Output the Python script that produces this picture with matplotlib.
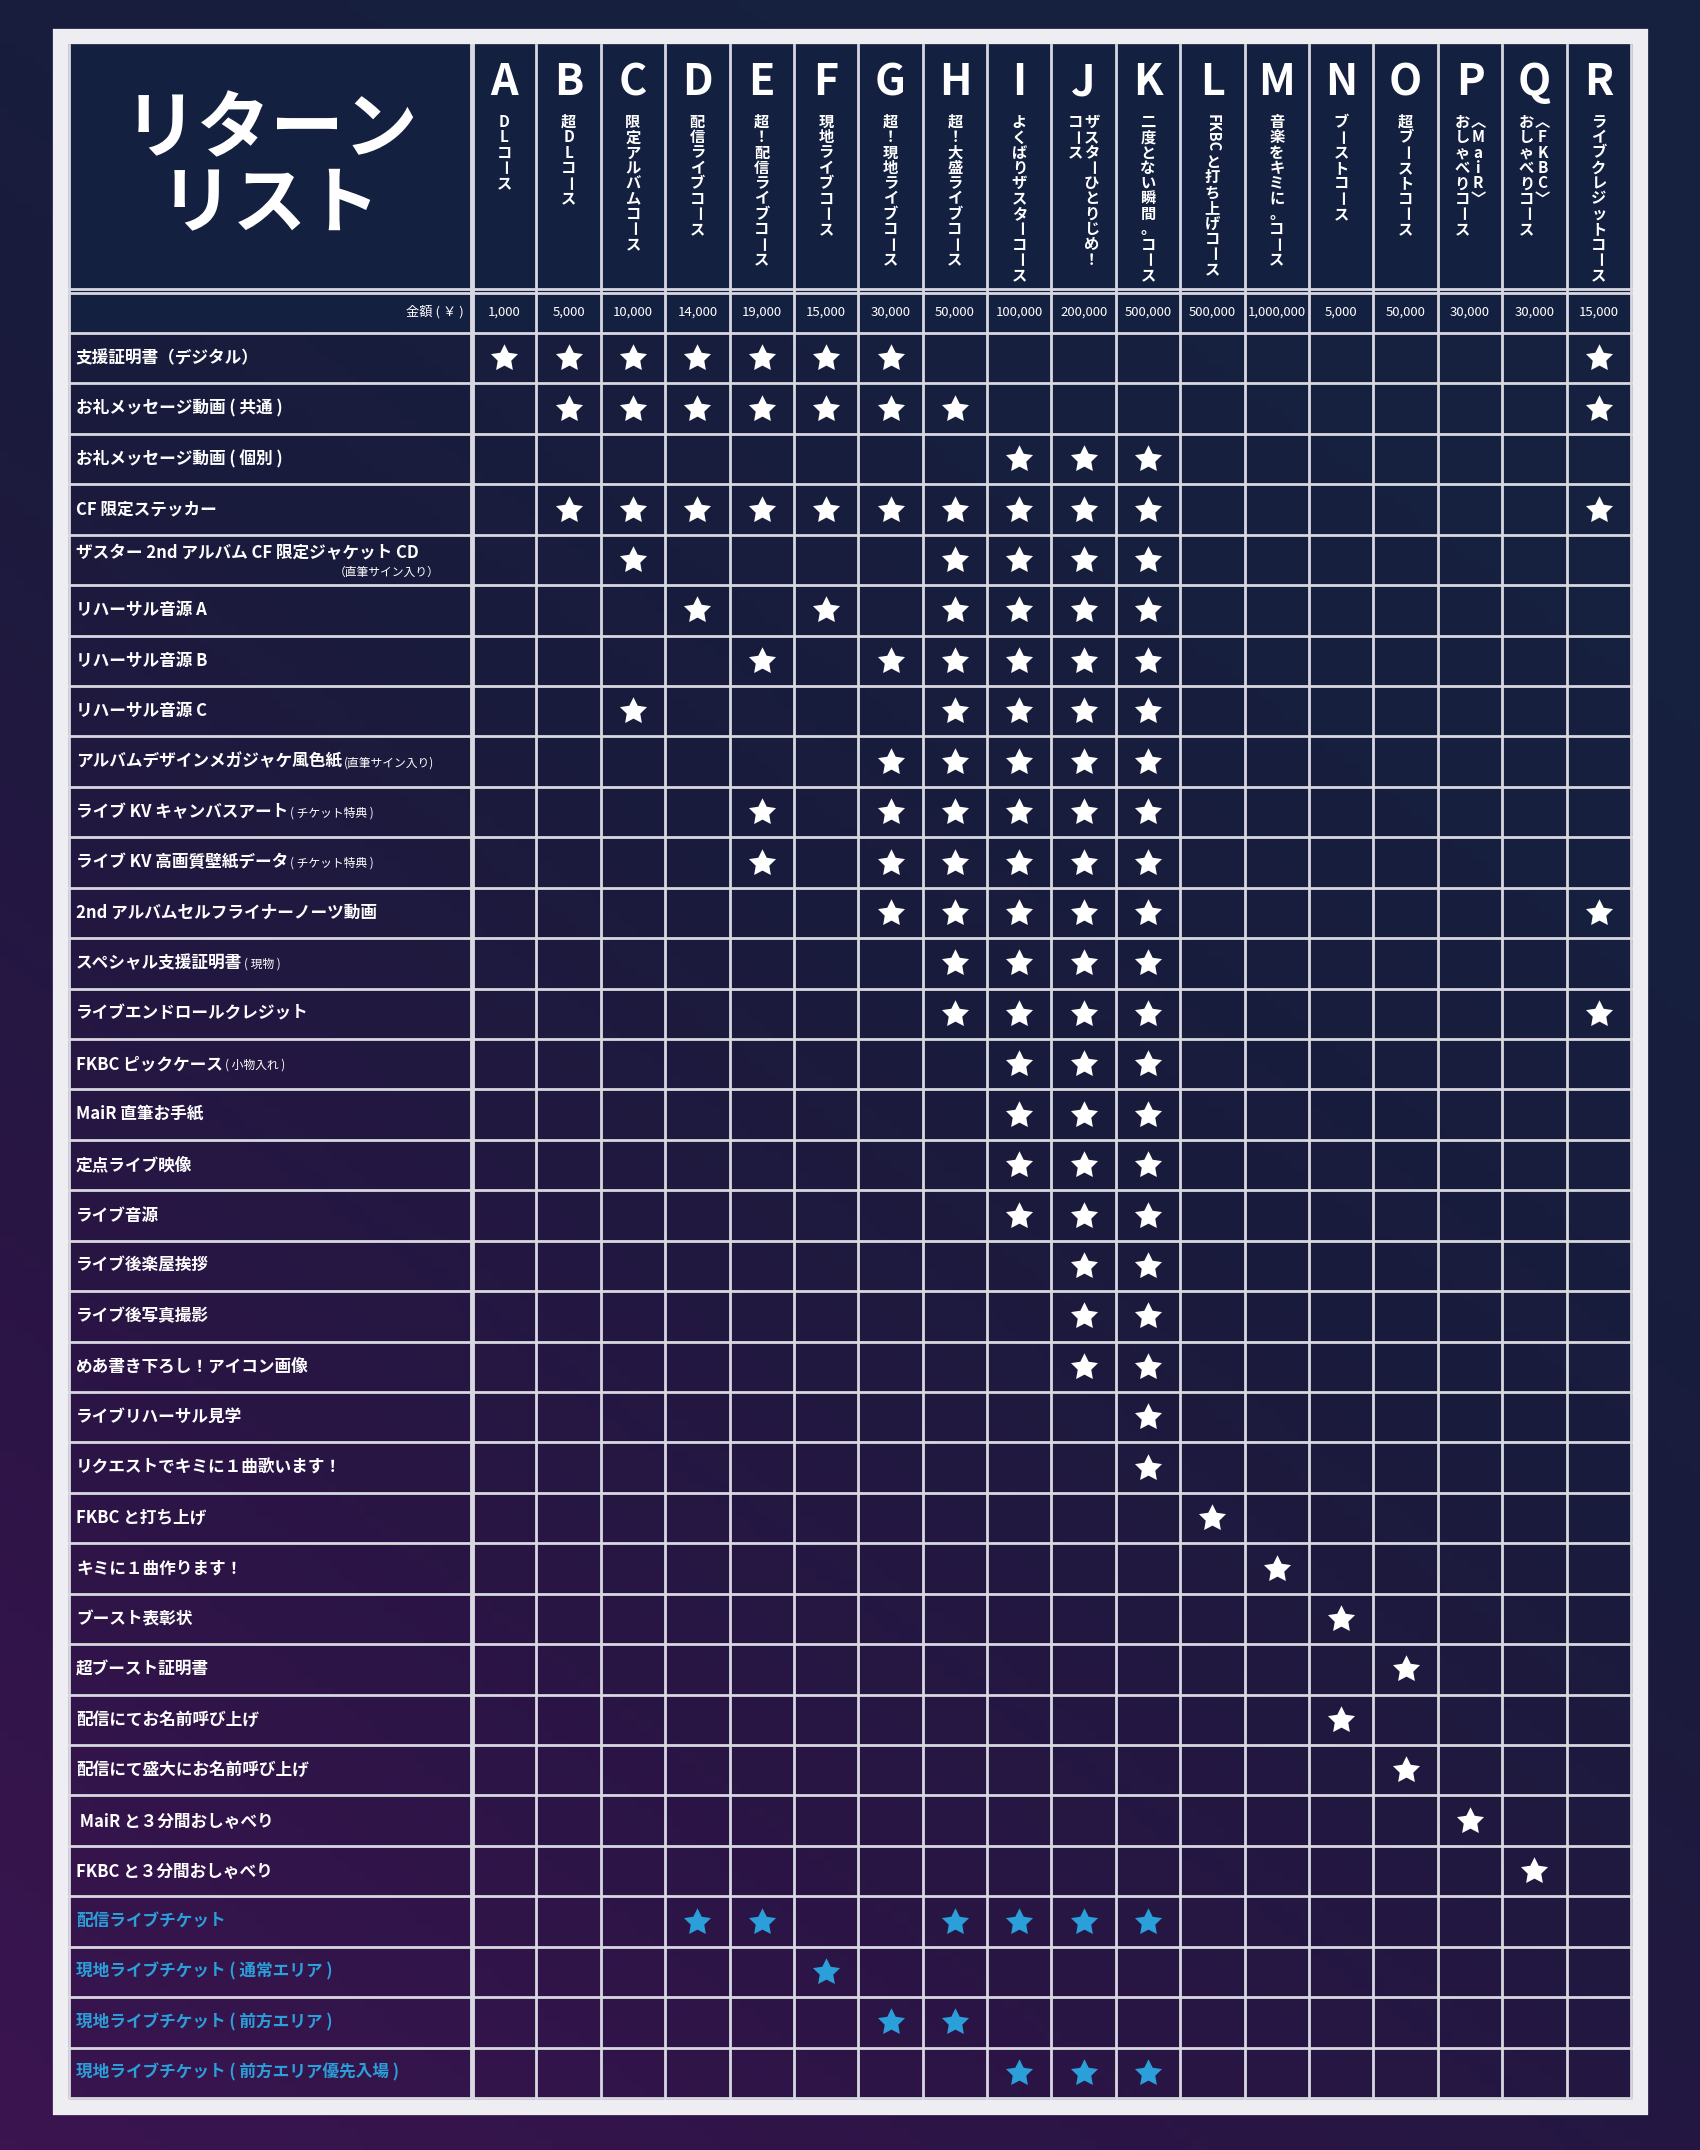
import matplotlib
matplotlib.use("Agg")
import matplotlib.pyplot as plt
import numpy as np
from matplotlib.colors import LinearSegmentedColormap

plt.rcParams['font.family'] = ['Noto Sans CJK JP', 'DejaVu Sans']

# ---------------- data ----------------
col_letters = list("ABCDEFGHIJKLMNOPQR")
col_names = [
    ["DLコース"], ["超DLコース"], ["限定アルバムコース"], ["配信ライブコース"],
    ["超！配信ライブコース"], ["現地ライブコース"], ["超！現地ライブコース"],
    ["超！大盛ライブコース"], ["よくばりザスターコース"], ["ザスターひとりじめ！", "コース"],
    ["二度とない瞬間。コース"], ["[FKBC]と打ち上げコース"], ["音楽をキミに。コース"],
    ["ブーストコース"], ["超ブーストコース"], ["︿MaiR﹀", "おしゃべりコース"],
    ["︿FKBC﹀", "おしゃべりコース"], ["ライブクレジットコース"],
]
prices = ["1,000", "5,000", "10,000", "14,000", "19,000", "15,000", "30,000", "50,000",
          "100,000", "200,000", "500,000", "500,000", "1,000,000", "5,000", "50,000",
          "30,000", "30,000", "15,000"]
row_labels = [
    ("支援証明書（デジタル）", ""), ("お礼メッセージ動画 ( 共通 )", ""),
    ("お礼メッセージ動画 ( 個別 )", ""), ("CF 限定ステッカー", ""),
    ("ザスター 2nd アルバム CF 限定ジャケット CD", "（直筆サイン入り）"),
    ("リハーサル音源 A", ""), ("リハーサル音源 B", ""), ("リハーサル音源 C", ""),
    ("アルバムデザインメガジャケ風色紙", "(直筆サイン入り)"),
    ("ライブ KV キャンバスアート", "( チケット特典 )"),
    ("ライブ KV 高画質壁紙データ", "( チケット特典 )"),
    ("2nd アルバムセルフライナーノーツ動画", ""), ("スペシャル支援証明書", "( 現物 )"),
    ("ライブエンドロールクレジット", ""), ("FKBC ピックケース", "( 小物入れ )"),
    ("MaiR 直筆お手紙", ""), ("定点ライブ映像", ""), ("ライブ音源", ""),
    ("ライブ後楽屋挨拶", ""), ("ライブ後写真撮影", ""), ("めあ書き下ろし！アイコン画像", ""),
    ("ライブリハーサル見学", ""), ("リクエストでキミに１曲歌います！", ""),
    ("FKBC と打ち上げ", ""), ("キミに１曲作ります！", ""), ("ブースト表彰状", ""),
    ("超ブースト証明書", ""), ("配信にてお名前呼び上げ", ""),
    ("配信にて盛大にお名前呼び上げ", ""), (" MaiR と３分間おしゃべり", ""),
    ("FKBC と３分間おしゃべり", ""), ("配信ライブチケット", ""),
    ("現地ライブチケット ( 通常エリア )", ""), ("現地ライブチケット ( 前方エリア )", ""),
    ("現地ライブチケット ( 前方エリア優先入場 )", ""),
]
row_stars = [
    "ABCDEFGR", "BCDEFGHR", "IJK", "BCDEFGHIJKR", "CHIJK", "DFHIJK", "EGHIJK",
    "CHIJK", "GHIJK", "EGHIJK", "EGHIJK", "GHIJKR", "HIJK", "HIJKR", "IJK", "IJK",
    "IJK", "IJK", "JK", "JK", "JK", "K", "K", "L", "M", "N", "O", "N", "O", "P", "Q",
    "DEHIJK", "F", "GH", "IJK",
]
ticket_rows = [31, 32, 33, 34]

# ---------------- layout ----------------
W, H = 1700, 2150
fig = plt.figure(figsize=(17, 21.5), dpi=100)
ax = fig.add_axes([0, 0, 1, 1])
ax.set_xlim(0, W); ax.set_ylim(H, 0); ax.axis('off')

yy, xx = np.mgrid[0:1:200j, 0:1:200j]
t = np.clip(0.75 * yy - 0.45 * xx + 0.2, 0, 1)
cmap = LinearSegmentedColormap.from_list("bg", ["#16213f", "#1a1b3c", "#2a1545", "#3b1450"])
ax.imshow(t, extent=[0, W, H, 0], cmap=cmap, aspect='auto', zorder=0)

fx0, fx1, fy0, fy1 = 60, 1640, 36, 2107
ax.add_patch(plt.Rectangle((fx0, fy0), fx1 - fx0, fy1 - fy0, fill=False, ec="#eeeef2", lw=11, zorder=5))
tx0, tx1, ty0, ty1 = 69, 1631, 45, 2098
lab_x1 = 472
hdr_y1 = 291
price_y1 = 333
ncol = len(col_letters)
cw = (tx1 - lab_x1) / ncol
nrow = len(row_labels)
rh = (ty1 - price_y1) / nrow
ax.add_patch(plt.Rectangle((tx0, ty0), tx1 - tx0, price_y1 - ty0, color="#13203f", zorder=1))

lc = "#d8d8e0"
for i in range(ncol + 1):
    x = lab_x1 + i * cw
    ax.plot([x, x], [ty0, ty1], color=lc, lw=2 if i else 3.5, zorder=3)
ax.plot([tx0, tx0], [ty0, ty1], color=lc, lw=2, zorder=3)
for yv in [hdr_y1 - 2, hdr_y1 + 2]:
    ax.plot([tx0, tx1], [yv, yv], color=lc, lw=2, zorder=3)
for j in range(nrow + 1):
    y = price_y1 + j * rh
    ax.plot([tx0, tx1], [y, y], color=lc, lw=2, zorder=3)

ax.text((tx0 + lab_x1) / 2, 168, "リターン\nリスト", color="white", fontsize=53,
        fontweight='bold', ha='center', va='center', linespacing=1.0, zorder=4)

step = 15.3
for i, (let, names) in enumerate(zip(col_letters, col_names)):
    cx = lab_x1 + (i + 0.5) * cw
    ax.text(cx, 82, let, color="white", fontsize=31, fontweight='bold',
            ha='center', va='center', zorder=4)
    n = len(names)
    offs = [0] if n == 1 else [8, -8]
    for s, off in zip(names, offs):
        y = 122
        k = 0
        while k < len(s):
            ch = s[k]
            if ch == '[':
                end = s.index(']', k)
                run = s[k + 1:end]
                ax.text(cx + off, y - step / 2, run, color="white", fontsize=10.5,
                        fontweight='bold', rotation=-90, ha='center', va='top', zorder=4)
                y += len(run) * 9 + 4
                k = end + 1
                continue
            ax.text(cx + off, y, ch, color="white", fontsize=11,
                    fontweight='bold', rotation=-90 if ch == "ー" else 0,
                    ha='center', va='center', zorder=4)
            y += step
            k += 1

py = (hdr_y1 + price_y1) / 2
ax.text(lab_x1 - 8, py, "金額 ( ￥ )", color="white", fontsize=9.5, ha='right', va='center', zorder=4)
for i, p in enumerate(prices):
    ax.text(lab_x1 + (i + 0.5) * cw, py, p, color="white", fontsize=9.5,
            ha='center', va='center', zorder=4)

fig.canvas.draw()
r = fig.canvas.get_renderer()
for j, ((main, small), stars) in enumerate(zip(row_labels, row_stars)):
    cy = price_y1 + (j + 0.5) * rh
    color = "#2b9fd9" if j in ticket_rows else "white"
    if j == 4:
        ax.text(76, cy - 7, main, color=color, fontsize=12, fontweight='bold', ha='left', va='center', zorder=4)
        ax.text(440, cy + 12, small, color=color, fontsize=8.5, ha='right', va='center', zorder=4)
    else:
        tt = ax.text(76, cy, main, color=color, fontsize=12, fontweight='bold', ha='left', va='center', zorder=4)
        if small:
            bb = tt.get_window_extent(renderer=r)
            ax.text(bb.x1 + 2, cy + 1, small, color=color, fontsize=8.5, ha='left', va='center', zorder=4)
    xs = [lab_x1 + (col_letters.index(c) + 0.5) * cw for c in stars]
    ax.scatter(xs, [cy] * len(xs), marker=(5, 1, 0), s=420, color=color,
               linewidths=0, zorder=4)

fig.savefig("out.png", dpi=100)
